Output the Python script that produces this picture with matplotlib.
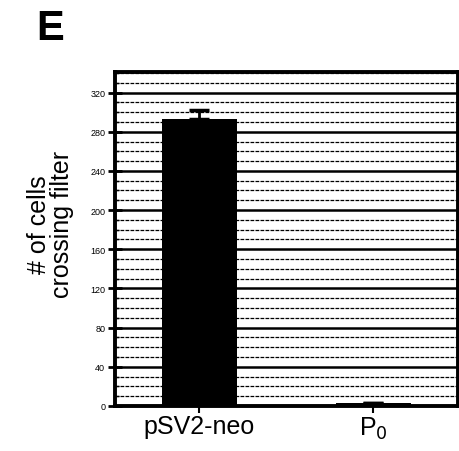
import matplotlib
matplotlib.use("Agg")
import matplotlib.pyplot as plt
from matplotlib.ticker import MultipleLocator

categories = ["pSV2-neo", "P$_0$"]
values = [293, 3]
errors = [9, 0]
yticks = [0, 40, 80, 120, 160, 200, 240, 280, 320]
ytick_labels = ["0", "40", "80", "120", "160", "200", "240", "280", "320"]

fig = plt.figure(figsize=(4.59, 4.52), dpi=100)
ax = fig.add_axes([0.2505, 0.0996, 0.7465, 0.739])

x = list(range(len(categories)))
ax.set_axisbelow(True)
ax.yaxis.set_minor_locator(MultipleLocator(10))
ax.grid(axis="y", which="major", color="black", linewidth=1.8, linestyle="-")
ax.grid(axis="y", which="minor", color="black", linewidth=0.9, linestyle=(0, (3, 1)))
ax.bar(x, values, width=0.43, color="black", zorder=3)
ax.errorbar(x, values, yerr=[[0]*len(errors), errors], fmt="none", ecolor="black",
            elinewidth=2, capsize=7, capthick=2.5, zorder=4)

ax.set_xlim(-0.486, 1.486)
ax.set_ylim(0, 341)
ax.set_yticks(yticks)
ax.set_yticklabels(ytick_labels, fontsize=6.5, family="Liberation Sans")
ax.set_xticks(x)
ax.set_xticklabels(categories, fontsize=18, family="Liberation Sans")
ax.tick_params(axis="y", which="major", direction="inout", length=10, width=2, pad=2)
ax.tick_params(axis="y", which="minor", direction="in", length=3, width=1)
ax.tick_params(axis="x", direction="out", length=5, width=1.5, pad=1)
for s in ax.spines.values():
    s.set_linewidth(2.8)
    s.set_color("black")

ax.set_ylabel("# of cells\ncrossing filter", fontsize=18, family="Liberation Sans",
              linespacing=0.95)
ax.yaxis.set_label_coords(-0.12, 0.545)
fig.text(0.078, 0.935, "E", fontsize=30, fontweight="bold", family="Liberation Sans",
         va="center", ha="left")

fig.savefig("out.png", dpi=100)
